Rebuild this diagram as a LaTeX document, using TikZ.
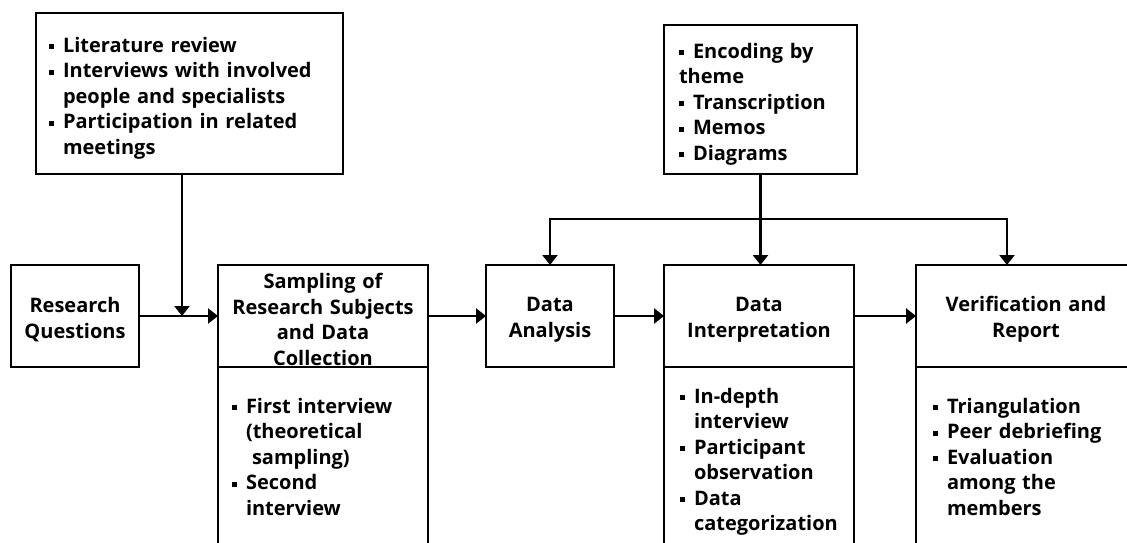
\documentclass[tikz,border=0pt]{standalone}
\usepackage{fontspec}
\setmainfont{Open Sans}
\usetikzlibrary{arrows.meta,positioning}

\hyphenpenalty=10000
\exhyphenpenalty=10000
\newcommand{\sqbul}{\makebox[14pt][l]{\raisebox{3pt}{\rule{5pt}{5pt}}}}
\newcommand{\hang}{\hspace*{14pt}}

\begin{document}
\begin{tikzpicture}[x=1pt,y=-1pt,
    box/.style={draw,line width=2.8pt,outer sep=0pt,inner sep=0pt,align=center,
        font=\bfseries\fontsize{20}{25.5}\selectfont},
    lowered/.style={execute at begin node={\rule{0pt}{#1}}},
    head/.style={box,lowered=22pt,minimum height=102pt,text width=#1},
    body/.style={box,align=left,text depth=190pt},
    arr/.style={line width=2.8pt,-{Triangle[length=10pt,width=15pt]}}]
  \useasboundingbox (0,0) rectangle (1127,543);
  \clip (0,0) rectangle (1127,543);
  % inputs on top
  \node[box,lowered=24pt,inner xsep=13pt,text width=281pt,minimum height=161pt,align=left] (lit) at (189.5,93.5)
    {\sqbul Literature review\\\sqbul Interviews with involved\\\hang people and specialists\\
     \sqbul Participation in related\\\hang meetings};
  \node[box,lowered=24pt,inner xsep=15pt,text width=163pt,minimum height=149pt,align=left] (enc) at (760.5,99.5)
    {\sqbul Encoding by\\theme\\\sqbul Transcription\\\sqbul Memos\\\sqbul Diagrams};
  % main steps
  \node[head=128pt] (rq) at (75,316) {Research\\Questions};
  \node[head=210pt,lowered=18pt] (samp) at (323,316) {Sampling of\\Research Subjects\\and Data\\Collection};
  \node[head=128pt] (da) at (550,316) {Data\\Analysis};
  \node[head=190pt] (di) at (759,316) {Data\\Interpretation};
  \node[head=220pt] (vr) at (1026,316) {Verification and\\Report};
  % details under the steps
  \node[body,below=0pt of samp,inner xsep=14pt,inner ysep=31pt,text width=182pt] (sampb)
    {\sqbul First interview\\\hang(theoretical\\\hang\hspace*{6pt}sampling)\\\sqbul Second\\\hang interview};
  \node[body,below=0pt of di,inner xsep=16pt,inner ysep=21pt,text width=158pt] (dib)
    {\sqbul In-depth\\\hang interview\\\sqbul Participant\\\hang observation\\\sqbul Data\\\hang categorization};
  \node[body,below=0pt of vr,inner xsep=17pt,inner ysep=31pt,text width=186pt] (vrb)
    {\sqbul Triangulation\\\sqbul Peer debriefing\\\sqbul Evaluation\\\hang among the\\\hang members};
  % arrows
  \coordinate (mg) at (182,316);
  \coordinate (br) at ([yshift=-45pt]enc.south);
  \draw[arr] (rq) -- (samp);
  \draw[arr] (mg |- lit.south) -- (mg);
  \draw[arr] (samp) -- (da);
  \draw[arr] (da) -- (di);
  \draw[arr] (di) -- (vr);
  \draw[arr] (enc.south) -- (enc.south |- di.north);
  \draw[arr] (br) -| (da.north);
  \draw[arr] (br) -| ([xshift=91pt]vr.north west);
\end{tikzpicture}
\end{document}
